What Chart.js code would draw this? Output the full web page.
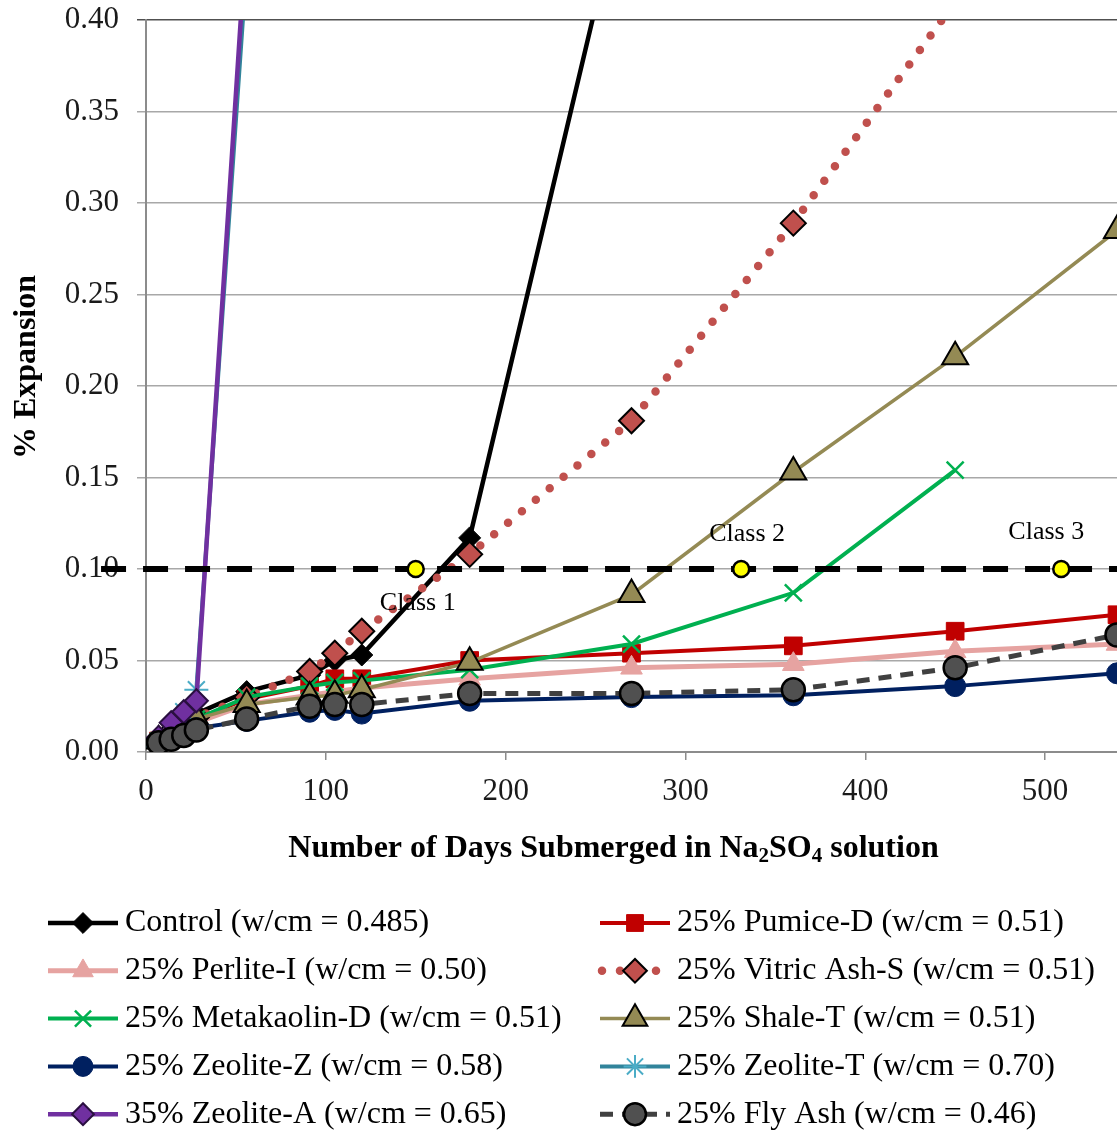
<!DOCTYPE html>
<html>
<head>
<meta charset="utf-8">
<script src="https://cdn.jsdelivr.net/npm/chart.js@4.4.1/dist/chart.umd.min.js"></script>
<style>
  html, body { margin: 0; padding: 0; background: #ffffff; }
  canvas { display: block; }
</style>
</head>
<body>
<canvas id="expansion" width="1117" height="1132"></canvas>
<script>
// Test ages (days submerged)
const days = [7, 14, 21, 28, 56, 91, 105, 120, 180, 270, 360, 450, 540];

// % expansion per mixture (null = not measured / off the chart)
const control     = [0.006, 0.010, 0.015, 0.021, 0.033, 0.042, 0.050, 0.053, 0.117, 0.490, null, null, null];
const pumiceD     = [0.006, 0.010, 0.014, 0.018, 0.029, 0.036, 0.040, 0.040, 0.050, 0.054, 0.058, 0.066, 0.075];
const perliteI    = [0.005, 0.009, 0.013, 0.016, 0.026, 0.031, 0.033, 0.035, 0.040, 0.046, 0.048, 0.055, 0.059];
const vitricAshS  = [0.007, 0.011, 0.015, 0.019, 0.030, 0.044, 0.054, 0.066, 0.108, 0.181, 0.289, 0.410, null];
const metakaolinD = [0.006, 0.010, 0.014, 0.018, 0.030, 0.036, 0.038, 0.039, 0.045, 0.059, 0.087, 0.154, null];
const shaleT      = [0.006, 0.010, 0.014, 0.018, 0.026, 0.030, 0.031, 0.034, 0.049, 0.086, 0.153, 0.216, 0.285];
const zeoliteZ    = [0.005, 0.008, 0.011, 0.013, 0.017, 0.022, 0.023, 0.021, 0.028, 0.030, 0.031, 0.036, 0.043];
const zeoliteT    = [0.003, 0.010, 0.022, 0.034, 0.430, null, null, null, null, null, null, null, null];
const zeoliteA    = [0.008, 0.016, 0.022, 0.028, 0.450, null, null, null, null, null, null, null, null];
const flyAsh      = [0.005, 0.007, 0.009, 0.012, 0.018, 0.025, 0.026, 0.026, 0.032, 0.032, 0.034, 0.046, 0.064];

const seriesLabels = [
  'Control (w/cm = 0.485)',
  '25% Pumice-D (w/cm = 0.51)',
  '25% Perlite-I (w/cm = 0.50)',
  '25% Vitric Ash-S (w/cm = 0.51)',
  '25% Metakaolin-D (w/cm = 0.51)',
  '25% Shale-T (w/cm = 0.51)',
  '25% Zeolite-Z (w/cm = 0.58)',
  '25% Zeolite-T (w/cm = 0.70)',
  '35% Zeolite-A (w/cm = 0.65)',
  '25% Fly Ash (w/cm = 0.46)'
];
const seriesValues = [control, pumiceD, perliteI, vitricAshS, metakaolinD, shaleT, zeoliteZ, zeoliteT, zeoliteA, flyAsh];

// Expansion limit and class markers on it
const limitDays = [-25, 540];
const limitLevel = 0.10;
const classDays = [150, 331, 509];
const classLabels = ['Class 1', 'Class 2', 'Class 3'];

// Y ticks
const yTickValues = [0, 0.05, 0.10, 0.15, 0.20, 0.25, 0.30, 0.35, 0.40];

// Line / marker styles, same order as the series
const styles = [
  { line: '#000000', width: 4.5, dash: [], point: 'rectRot', r: 11, fill: '#000000', edge: '#000000', edgeW: 1 },
  { line: '#C00000', width: 4, dash: [], point: 'rect', r: 12.5, fill: '#C00000', edge: '#C00000', edgeW: 1 },
  { line: '#E6A3A1', width: 5, dash: [], point: 'triangle', r: 12.5, fill: '#E6A3A1', edge: '#E6A3A1', edgeW: 1 },
  { line: '#C0504D', width: 8.5, dash: [0, 18], cap: 'round', point: 'rectRot', r: 12.5, fill: '#C0504D', edge: '#000000', edgeW: 2 },
  { line: '#00B050', width: 4, dash: [], point: 'crossRot', r: 12, fill: '#00B050', edge: '#00B050', edgeW: 2.5 },
  { line: '#948A54', width: 3.5, dash: [], point: 'triangle', r: 15, fill: '#948A54', edge: '#000000', edgeW: 2 },
  { line: '#002060', width: 4, dash: [], point: 'circle', r: 10.5, fill: '#002060', edge: '#002060', edgeW: 1 },
  { line: '#31849B', width: 4, dash: [], point: 'star', r: 12, fill: '#4BACC6', edge: '#4BACC6', edgeW: 2 },
  { line: '#7030A0', width: 4.5, dash: [], point: 'rectRot', r: 11.5, fill: '#7030A0', edge: '#2a0f40', edgeW: 2 },
  { line: '#404040', width: 5, dash: [13, 9], point: 'circle', r: 11.5, fill: '#505050', edge: '#000000', edgeW: 2.5 }
];

const FONT = '"Liberation Serif", "Times New Roman", serif';
Chart.defaults.font.family = FONT;
Chart.defaults.color = '#1a1a1a';

const datasets = seriesValues.map((vals, i) => {
  const s = styles[i];
  return {
    label: seriesLabels[i],
    inLegend: true,
    data: days.map((d, k) => ({ x: d, y: vals[k] })).filter(p => p.y !== null),
    borderColor: s.line,
    borderWidth: s.width,
    borderDash: s.dash,
    borderCapStyle: s.cap || 'butt',
    pointStyle: s.point,
    pointRadius: s.r,
    pointBackgroundColor: s.fill,
    pointBorderColor: s.edge,
    pointBorderWidth: s.edgeW,
    tension: 0,
    order: -i
  };
});

datasets.push({
  label: 'limit',
  inLegend: false,
  data: limitDays.map(d => ({ x: d, y: limitLevel })),
  borderColor: '#000000',
  borderWidth: 6,
  borderDash: [25, 17],
  pointRadius: 0,
  clip: false,
  order: -20
});

datasets.push({
  label: 'classes',
  inLegend: false,
  isClassMarks: true,
  data: classDays.map(d => ({ x: d, y: limitLevel })),
  showLine: false,
  pointStyle: 'circle',
  pointRadius: 8,
  pointBackgroundColor: '#FFFF00',
  pointBorderColor: '#000000',
  pointBorderWidth: 2.5,
  order: -21
});

// Text next to the class markers
const classLabelPlugin = {
  id: 'classLabels',
  afterDatasetsDraw(chart) {
    const idx = chart.data.datasets.findIndex(d => d.isClassMarks);
    const meta = chart.getDatasetMeta(idx);
    const ctx = chart.ctx;
    const place = [{ dx: 2, dy: 34 }, { dx: 6, dy: -35 }, { dx: -15, dy: -37 }];
    ctx.save();
    ctx.font = '26px ' + FONT;
    ctx.fillStyle = '#000000';
    ctx.textAlign = 'center';
    ctx.textBaseline = 'middle';
    meta.data.forEach((pt, i) => {
      ctx.fillText(classLabels[i], pt.x + place[i].dx, pt.y + place[i].dy);
    });
    ctx.restore();
  }
};

// Axis titles (x title carries subscripts)
const axisTitlePlugin = {
  id: 'axisTitles',
  afterDraw(chart) {
    const ctx = chart.ctx;
    const area = chart.chartArea;
    ctx.save();
    ctx.fillStyle = '#000000';
    ctx.textBaseline = 'middle';
    const big = 'bold 32px ' + FONT;
    const small = 'bold 21px ' + FONT;
    const parts = [
      { t: 'Number of Days Submerged in Na', sub: false },
      { t: '2', sub: true },
      { t: 'SO', sub: false },
      { t: '4', sub: true },
      { t: ' solution', sub: false }
    ];
    let total = 0;
    parts.forEach(p => { ctx.font = p.sub ? small : big; p.w = ctx.measureText(p.t).width; total += p.w; });
    let x = (area.left + area.right) / 2 - 18 - total / 2;
    const y = area.bottom + 97;
    ctx.textAlign = 'left';
    parts.forEach(p => {
      ctx.font = p.sub ? small : big;
      ctx.fillText(p.t, x, p.sub ? y + 8 : y);
      x += p.w;
    });
    // y title
    ctx.translate(27, (area.top + area.bottom) / 2 - 19);
    ctx.rotate(-Math.PI / 2);
    ctx.font = big;
    ctx.textAlign = 'center';
    ctx.fillText('% Expansion', 0, 0);
    ctx.restore();
  }
};

// Two-column legend under the plot
const legendPlugin = {
  id: 'twoColumnLegend',
  afterDraw(chart) {
    const ctx = chart.ctx;
    const area = chart.chartArea;
    const cols = [48, 600];
    const sampleW = 70;
    const top = area.bottom + 171;
    const gap = 47.8;
    const entries = chart.data.datasets.filter(d => d.inLegend);
    entries.forEach((ds, i) => {
      const x0 = cols[i % 2];
      const y = top + Math.floor(i / 2) * gap;
      ctx.save();
      ctx.strokeStyle = ds.borderColor;
      ctx.lineWidth = ds.borderWidth;
      ctx.lineCap = ds.borderCapStyle;
      ctx.setLineDash(ds.borderDash);
      ctx.beginPath();
      ctx.moveTo(x0 + (ds.borderCapStyle === 'round' ? 2 : 0), y);
      ctx.lineTo(x0 + sampleW, y);
      ctx.stroke();
      ctx.setLineDash([]);
      ctx.lineCap = 'butt';
      ctx.fillStyle = ds.pointBackgroundColor;
      ctx.strokeStyle = ds.pointBorderColor;
      ctx.lineWidth = ds.pointBorderWidth;
      Chart.helpers.drawPoint(ctx, {
        pointStyle: ds.pointStyle, rotation: 0,
        radius: ds.pointRadius * 0.95, borderWidth: ds.pointBorderWidth
      }, x0 + sampleW / 2, y);
      ctx.fillStyle = '#000000';
      ctx.font = '32px ' + FONT;
      ctx.textAlign = 'left';
      ctx.textBaseline = 'middle';
      ctx.fillText(ds.label, x0 + sampleW + 7, y);
      ctx.restore();
    });
  }
};

new Chart(document.getElementById('expansion'), {
  type: 'line',
  data: { datasets },
  options: {
    responsive: false,
    animation: false,
    events: [],
    devicePixelRatio: 1,
    layout: { autoPadding: false, padding: { top: 20, right: 0, bottom: 320, left: 0 } },
    plugins: { legend: { display: false }, tooltip: { enabled: false } },
    scales: {
      x: {
        type: 'linear',
        min: 0,
        max: 540,
        afterFit: s => { s.height = 60; s.paddingLeft = 0; s.paddingRight = 0; },
        ticks: { stepSize: 100, includeBounds: false, padding: 13, color: '#1a1a1a', font: { size: 31 } },
        grid: { display: true, drawOnChartArea: false, drawTicks: true, tickLength: 8, color: '#8c8c8c', lineWidth: 1.5 },
        border: { display: true, color: '#8c8c8c', width: 2 }
      },
      y: {
        type: 'linear',
        min: 0,
        max: 0.4,
        afterFit: s => { s.width = 146; s.paddingTop = 0; s.paddingBottom = 0; },
        afterBuildTicks: s => { s.ticks = yTickValues.map(v => ({ value: v })); },
        ticks: {
          padding: 18,
          color: '#1a1a1a',
          font: { size: 31 },
          callback: v => Number(v).toFixed(2)
        },
        grid: {
          drawTicks: true,
          tickLength: 9,
          lineWidth: 1.5,
          color: c => (c.tick && Math.abs(c.tick.value - 0.4) < 1e-9) ? '#505050' : '#a8a8a8'
        },
        border: { display: true, color: '#8c8c8c', width: 2 }
      }
    }
  },
  plugins: [classLabelPlugin, axisTitlePlugin, legendPlugin]
});
</script>
</body>
</html>
